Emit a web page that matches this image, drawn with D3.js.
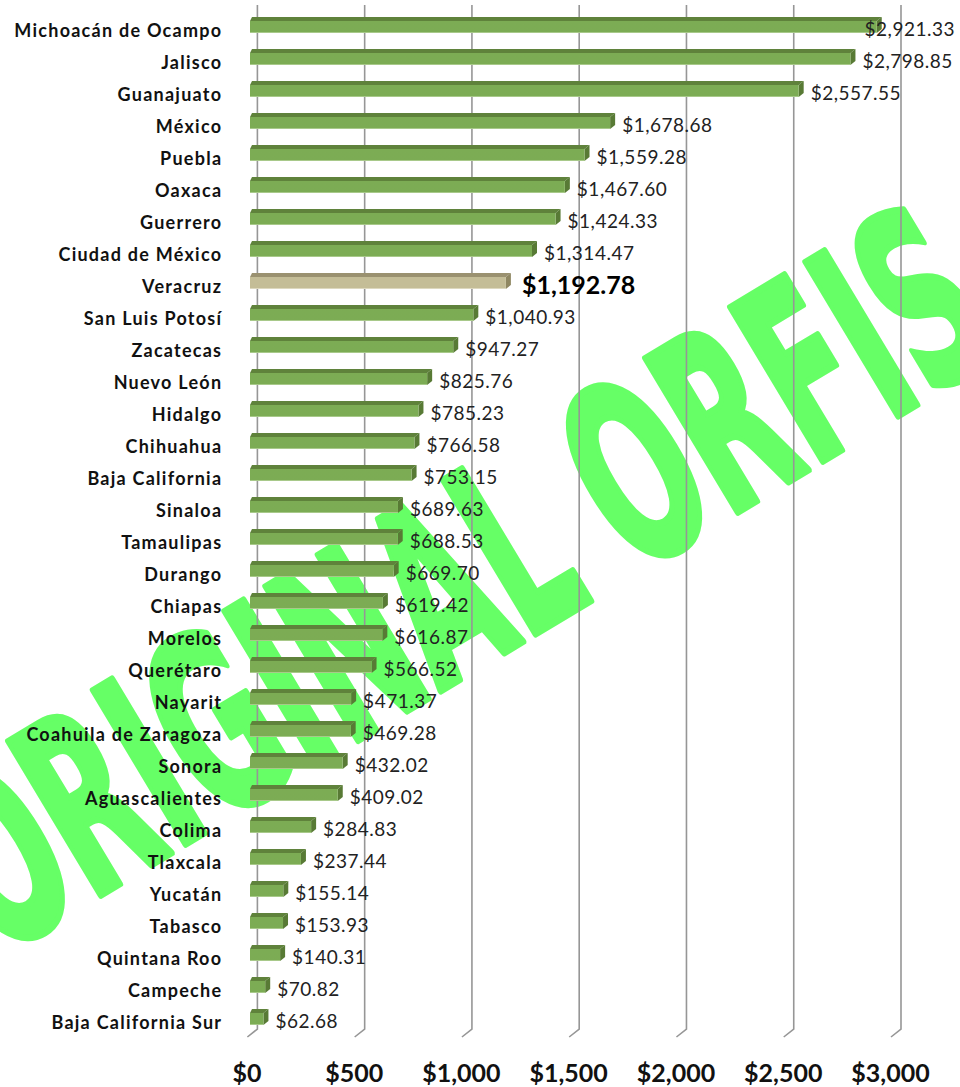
<!DOCTYPE html>
<html>
<head>
<meta charset="utf-8">
<script src="https://cdn.jsdelivr.net/npm/d3@7"></script>
<style>
  body { margin: 0; background: #fff; }
  svg { display: block; }
</style>
</head>
<body>
<svg id="chart" width="960" height="1087"></svg>
<script>
const states = [
  "Michoacán de Ocampo", "Jalisco", "Guanajuato", "México", "Puebla", "Oaxaca",
  "Guerrero", "Ciudad de México", "Veracruz", "San Luis Potosí", "Zacatecas",
  "Nuevo León", "Hidalgo", "Chihuahua", "Baja California", "Sinaloa", "Tamaulipas",
  "Durango", "Chiapas", "Morelos", "Querétaro", "Nayarit", "Coahuila de Zaragoza",
  "Sonora", "Aguascalientes", "Colima", "Tlaxcala", "Yucatán", "Tabasco",
  "Quintana Roo", "Campeche", "Baja California Sur"
];
const amounts = [
  2921.33, 2798.85, 2557.55, 1678.68, 1559.28, 1467.60,
  1424.33, 1314.47, 1192.78, 1040.93, 947.27,
  825.76, 785.23, 766.58, 753.15, 689.63, 688.53,
  669.70, 619.42, 616.87, 566.52, 471.37, 469.28,
  432.02, 409.02, 284.83, 237.44, 155.14, 153.93,
  140.31, 70.82, 62.68
];
const highlight = "Veracruz";
const ticks = [0, 500, 1000, 1500, 2000, 2500, 3000];
const watermark = "ORIGINAL ORFIS";

const data = states.map((s, i) => ({ state: s, value: amounts[i] }));

const svg = d3.select("#chart");

const x = d3.scaleLinear().domain([0, 3000]).range([257.4, 901]);
const y = d3.scaleBand().domain(states).range([1, 1025]);

const money = d3.format("$,.2f");
const moneyTick = d3.format("$,.0f");

// depth of the 3d floor / bars
const floorDx = 10, floorDy = 8;
const barShift = 7.4;
const sideW = 5, topH = 4, frontH = 12;

const defs = svg.append("defs");
const grad = defs.append("linearGradient")
  .attr("id", "barGrad")
  .attr("gradientUnits", "userSpaceOnUse")
  .attr("x1", 0).attr("y1", 0).attr("x2", 0).attr("y2", 1030);
grad.append("stop").attr("offset", "0%").attr("stop-color", "#7cac54");
grad.append("stop").attr("offset", "100%").attr("stop-color", "#7fa15b");

// watermark sits behind everything
svg.append("text")
  .attr("x", 0)
  .attr("y", 0)
  .attr("transform", "translate(-4,958) rotate(-31)")
  .attr("font-family", "'Liberation Sans Narrow', 'DejaVu Sans Condensed', sans-serif")
  .attr("font-weight", "bold")
  .attr("font-size", 246)
  .attr("textLength", 1180)
  .attr("lengthAdjust", "spacingAndGlyphs")
  .attr("fill", "#66ff66")
  .attr("stroke", "#66ff66")
  .attr("stroke-width", 7)
  .attr("stroke-linejoin", "round")
  .text(watermark);

// gridlines with floor foot
svg.append("g")
  .selectAll("path")
  .data(ticks)
  .join("path")
  .attr("d", d => `M${x(d)},5 L${x(d)},1029 L${x(d) - floorDx},${1029 + floorDy}`)
  .attr("fill", "none")
  .attr("stroke", "#969696")
  .attr("stroke-width", 1.6);

// bars
const bars = svg.append("g")
  .selectAll("g")
  .data(data)
  .join("g")
  .attr("transform", d => `translate(0,${y(d.state) + 16})`);

bars.each(function(d) {
  const g = d3.select(this);
  const isHi = d.state === highlight;
  const x0 = x(0) - barShift;
  const x1 = x(d.value) - barShift;
  const front = isHi ? "#c4bd97" : "url(#barGrad)";
  const top = isHi ? "#9a9170" : "#5f823b";
  const side = isHi ? "#8f8762" : "#587a35";

  g.append("path")
    .attr("d", `M${x0},${topH} L${x0 + 2},0 L${x1 + sideW},0 L${x1},${topH} Z`)
    .attr("fill", top);
  g.append("path")
    .attr("d", `M${x1},${topH} L${x1 + sideW},0 L${x1 + sideW},${frontH} L${x1},${topH + frontH} Z`)
    .attr("fill", side);
  g.append("rect")
    .attr("x", x0)
    .attr("y", topH)
    .attr("width", x1 - x0)
    .attr("height", frontH)
    .attr("fill", front);
  g.append("line")
    .attr("x1", x0).attr("x2", x1)
    .attr("y1", topH + frontH - 0.5).attr("y2", topH + frontH - 0.5)
    .attr("stroke", isHi ? "#ddd8bf" : "#a8c98a")
    .attr("stroke-width", 1);
});

// category labels
svg.append("g")
  .selectAll("text")
  .data(data)
  .join("text")
  .attr("x", 222.3)
  .attr("y", d => y(d.state) + 35.5)
  .attr("text-anchor", "end")
  .attr("font-family", "Lato, 'Open Sans', sans-serif")
  .attr("font-weight", "bold")
  .attr("font-size", 18)
  .attr("letter-spacing", 1.25)
  .attr("fill", "#111")
  .text(d => d.state);

// value labels
const valueLabels = svg.append("g")
  .selectAll("text")
  .data(data)
  .join("text")
  .attr("y", d => y(d.state) + (d.state === highlight ? 37 : 34.5))
  .attr("font-family", "Lato, 'Open Sans', sans-serif")
  .attr("font-weight", d => d.state === highlight ? "bold" : "normal")
  .attr("font-size", d => d.state === highlight ? 25 : 19)
  .attr("letter-spacing", d => d.state === highlight ? 0 : 0.5)
  .attr("fill", d => d.state === highlight ? "#000" : "#222")
  .text(d => money(d.value));

valueLabels.attr("x", function(d) {
  const w = this.getComputedTextLength();
  const pad = d.state === highlight ? 16 : 12;
  const want = x(d.value) - barShift + sideW + pad - 5;
  return Math.min(want, 955 - w);
});

// axis tick labels
svg.append("g")
  .selectAll("text")
  .data(ticks)
  .join("text")
  .attr("x", d => x(d) - 10.5)
  .attr("y", 1082)
  .attr("text-anchor", "middle")
  .attr("font-family", "Lato, 'Open Sans', sans-serif")
  .attr("font-weight", "bold")
  .attr("font-size", 25)
  .attr("fill", "#111")
  .text(d => moneyTick(d));
</script>
</body>
</html>
